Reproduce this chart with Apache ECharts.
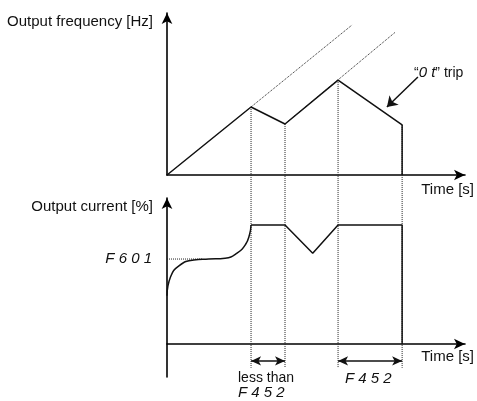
<!DOCTYPE html>
<html>
<head>
<meta charset="utf-8">
<script src="https://cdn.jsdelivr.net/npm/echarts@6/dist/echarts.min.js"></script>
<style>html,body{margin:0;padding:0;background:#fff}#c{width:477px;height:401px}</style>
</head>
<body>
<div id="c"></div>
<script>
// ---- data (time axis 0..100, value axes 0..100) ----
const freqT = [0, 28.2, 39.6, 57.4, 78.9, 78.9];
const freqV = [0, 42.0, 31.5, 58.6, 30.9, 0];
const extStartT = [28.2, 39.6];
const extStartV = [42.0, 31.5];
const extEndT = [62.1, 76.5];
const extEndV = [92.6, 88.0];
const eventT = [28.2, 39.6, 57.4, 78.9];
const eventF = [42.0, 31.5, 58.6, 30.9];
const guideLow = -119;           // where the dotted event guides end (top-chart units)
const tripArrowT = [84.2, 73.8];
const tripArrowV = [60.5, 42.0];

const curveT = [0, 1.2, 4.0, 9.0, 14.0, 19.5, 23.5, 26.3, 27.7, 28.2];
const curveV = [33.0, 46.0, 53.5, 57.6, 58.2, 58.8, 62.2, 68.0, 75.0, 81.5];
const currT = [28.2, 39.6, 48.9, 57.4, 78.9, 78.9];
const currV = [81.5, 81.5, 62.1, 81.5, 81.5, 0];
const limitLevel = 58.2;
const limitEndT = 12.1;
const spanStart = [28.2, 57.4];
const spanEnd = [39.6, 78.9];
const spanLevel = -11.6;

const topTitle = 'Output frequency [Hz]';
const botTitle = 'Output current [%]';
const timeLabel = 'Time [s]';

const zip = (a, b) => a.map((v, i) => [v, b[i]]);
const LINE = '#111';
const DOT = '#222';
const segFont = 'italic 15px "Liberation Sans"';

const axisBase = (show) => ({
  axisLine: {show: show, onZero: true, symbol: ['none', 'arrow'], symbolSize: [8, 11],
    lineStyle: {color: '#000', width: 1.6}},
  axisTick: {show: false}, axisLabel: {show: false}, splitLine: {show: false}
});

const series = [];
// top: frequency
series.push({type: 'line', xAxisIndex: 0, yAxisIndex: 0, data: zip(freqT, freqV), symbol: 'none',
  lineStyle: {color: LINE, width: 1.5}, z: 5,
  markLine: {silent: true, symbol: ['none', 'arrow'], symbolSize: 10,
    lineStyle: {color: LINE, width: 1.5, type: 'solid'}, label: {show: false},
    data: [[{coord: [tripArrowT[0], tripArrowV[0]]}, {coord: [tripArrowT[1], tripArrowV[1]]}]]}
});
// dotted extensions
extStartT.forEach((t, i) => series.push({type: 'line', xAxisIndex: 0, yAxisIndex: 0,
  data: [[t, extStartV[i]], [extEndT[i], extEndV[i]]], symbol: 'none',
  lineStyle: {color: DOT, width: 1, type: 'dotted'}, z: 3}));
// vertical guides through both panels
eventT.forEach((t, i) => series.push({type: 'line', xAxisIndex: 0, yAxisIndex: 0, clip: false,
  data: [[t, eventF[i]], [t, guideLow]], symbol: 'none',
  lineStyle: {color: DOT, width: 1, type: 'dotted'}, z: 2}));
// bottom: current
series.push({type: 'line', xAxisIndex: 1, yAxisIndex: 1, data: zip(curveT, curveV), symbol: 'none',
  smooth: 0.5, lineStyle: {color: LINE, width: 1.5}, z: 5});
series.push({type: 'line', xAxisIndex: 1, yAxisIndex: 1, data: zip(currT, currV), symbol: 'none',
  lineStyle: {color: LINE, width: 1.5}, z: 5,
  markLine: {silent: true, symbol: ['arrow', 'arrow'], symbolSize: [7, 10],
    lineStyle: {color: LINE, width: 1.5, type: 'solid'}, label: {show: false},
    data: spanStart.map((s, i) => [{coord: [s, spanLevel]}, {coord: [spanEnd[i], spanLevel]}])}
});
series.push({type: 'line', xAxisIndex: 1, yAxisIndex: 1, data: [[0, limitLevel], [limitEndT, limitLevel]],
  symbol: 'none', lineStyle: {color: DOT, width: 1, type: 'dotted'}, z: 3});

const txt = (text, x, y, align, font) => ({type: 'text', x: x, y: y, z: 100,
  style: {text: text, align: align, verticalAlign: 'middle', font: font || '15px "Liberation Sans"', fill: '#111'}});

const chart = echarts.init(document.getElementById('c'), null, {renderer: 'canvas'});
chart.setOption({
  animation: false,
  grid: [
    {left: 167, top: 13, width: 298, height: 162},
    {left: 167, top: 198, width: 298, height: 179}
  ],
  xAxis: [
    Object.assign({type: 'value', gridIndex: 0, min: 0, max: 100}, axisBase(true)),
    Object.assign({type: 'value', gridIndex: 1, min: 0, max: 100}, axisBase(true))
  ],
  yAxis: [
    Object.assign({type: 'value', gridIndex: 0, min: 0, max: 100}, axisBase(true)),
    Object.assign({type: 'value', gridIndex: 1, min: -22.6, max: 100}, axisBase(true))
  ],
  series: series,
  graphic: [
    txt(topTitle, 153, 22, 'right'),
    txt(botTitle, 153, 207, 'right'),
    txt(timeLabel, 474, 190, 'right'),
    txt(timeLabel, 474, 357, 'right'),
    txt('F 6 0 1', 152, 259, 'right', segFont),
    txt('less than', 238, 378, 'left', '14px "Liberation Sans"'),
    txt('F 4 5 2', 238, 393, 'left', segFont),
    txt('F 4 5 2', 345, 379, 'left', segFont),
    {type: 'text', x: 414, y: 73, z: 100, style: {text: '“{s|0 t}” trip', align: 'left', verticalAlign: 'middle',
      font: '14px "Liberation Sans"', fill: '#111', rich: {s: {fontStyle: 'italic', fontSize: 15, fontFamily: 'Liberation Sans'}}}}
  ]
});
</script>
</body>
</html>
